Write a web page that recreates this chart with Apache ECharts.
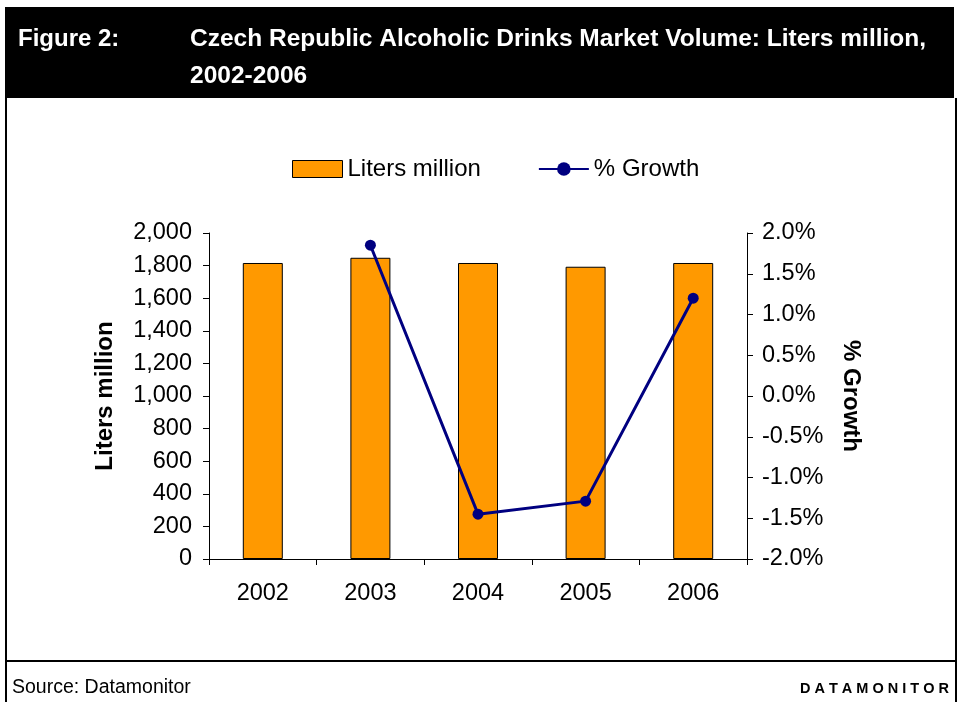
<!DOCTYPE html>
<html>
<head>
<meta charset="utf-8">
<script src="https://cdn.jsdelivr.net/npm/echarts@6/dist/echarts.min.js"></script>
<style>
html,body{margin:0;padding:0;background:#fff;}
#chart{width:961px;height:702px;}
</style>
</head>
<body>
<div id="chart"></div>
<script>
var categories = ['2002', '2003', '2004', '2005', '2006'];
var volumeValues = [1816, 1848, 1816, 1793, 1816];
var growthValues = [null, 1.85, -1.45, -1.29, 1.20];
var leftTicks = [0, 200, 400, 600, 800, 1000, 1200, 1400, 1600, 1800, 2000];
var rightTicks = [-2.0, -1.5, -1.0, -0.5, 0.0, 0.5, 1.0, 1.5, 2.0];

var FONT = '"Liberation Sans", Arial, sans-serif';
var chart = echarts.init(document.getElementById('chart'), null, {renderer: 'canvas'});

var option = {
  backgroundColor: '#ffffff',
  animation: false,
  textStyle: {fontFamily: FONT},
  graphic: [
    {type: 'rect', shape: {x: 5, y: 7, width: 949, height: 91}, style: {fill: '#000000'}, z: 0},
    {type: 'line', shape: {x1: 6, y1: 98, x2: 6, y2: 702}, style: {stroke: '#000', lineWidth: 2}},
    {type: 'line', shape: {x1: 956, y1: 98, x2: 956, y2: 702}, style: {stroke: '#000', lineWidth: 2}},
    {type: 'line', shape: {x1: 5, y1: 661, x2: 957, y2: 661}, style: {stroke: '#000', lineWidth: 2}},
    {type: 'text', left: 18, top: 27, style: {text: 'Figure 2:', fill: '#fff', font: 'bold 24px ' + FONT}, z: 10},
    {type: 'text', left: 190, top: 27, style: {text: 'Czech Republic Alcoholic Drinks Market Volume: Liters million,', fill: '#fff', font: 'bold 24.5px ' + FONT}, z: 10},
    {type: 'text', left: 190, top: 64, style: {text: '2002-2006', fill: '#fff', font: 'bold 24.5px ' + FONT}, z: 10},
    {type: 'text', left: 12, top: 678, style: {text: 'Source: Datamonitor', fill: '#000', font: '19.5px ' + FONT}},
    {type: 'text', right: 12, top: 681, style: {text: 'D A T A M O N I T O R', fill: '#000', font: 'bold 14.5px ' + FONT}}
  ],
  legend: {
    top: 152,
    left: 287,
    itemGap: 57,
    itemWidth: 50,
    itemHeight: 17,
    textStyle: {fontSize: 24, color: '#000', fontFamily: FONT},
    data: [
      {name: 'Liters million', icon: 'rect', itemStyle: {color: '#FF9900', borderColor: '#000', borderWidth: 1}},
      {name: '% Growth'}
    ]
  },
  grid: {left: 209, right: 214, top: 233, bottom: 143, containLabel: false},
  xAxis: {
    type: 'category',
    data: categories,
    axisLine: {lineStyle: {color: '#000', width: 1}},
    axisTick: {show: true, alignWithLabel: false, length: 6, lineStyle: {color: '#000'}},
    axisLabel: {fontSize: 23.5, color: '#000', margin: 23, fontFamily: FONT},
    splitLine: {show: false}
  },
  yAxis: [
    {
      type: 'value',
      min: 0, max: 2000, interval: 200,
      name: 'Liters million',
      nameLocation: 'middle',
      nameGap: 92,
      nameRotate: 90,
      nameTextStyle: {fontSize: 24, fontWeight: 'bold', color: '#000', fontFamily: FONT},
      axisLine: {show: true, lineStyle: {color: '#000', width: 1}},
      axisTick: {show: true, length: 6, lineStyle: {color: '#000'}},
      axisLabel: {fontSize: 23.5, color: '#000', margin: 17, fontFamily: FONT,
        formatter: function (v) { return v.toLocaleString('en-US'); }},
      splitLine: {show: false}
    },
    {
      type: 'value',
      min: -2, max: 2, interval: 0.5,
      position: 'right',
      name: '% Growth',
      nameLocation: 'middle',
      nameGap: 92,
      nameRotate: -90,
      nameTextStyle: {fontSize: 24, fontWeight: 'bold', color: '#000', fontFamily: FONT},
      axisLine: {show: true, lineStyle: {color: '#000', width: 1}},
      axisTick: {show: true, length: 6, lineStyle: {color: '#000'}},
      axisLabel: {fontSize: 23.5, color: '#000', margin: 15, fontFamily: FONT,
        formatter: function (v) { return v.toFixed(1) + '%'; }},
      splitLine: {show: false}
    }
  ],
  series: [
    {
      name: 'Liters million',
      type: 'bar',
      data: volumeValues,
      barWidth: 40,
      itemStyle: {color: '#FF9900', borderColor: '#000', borderWidth: 1}
    },
    {
      name: '% Growth',
      type: 'line',
      yAxisIndex: 1,
      data: growthValues,
      symbol: 'circle',
      symbolSize: 11,
      connectNulls: false,
      lineStyle: {color: '#000080', width: 3},
      itemStyle: {color: '#000080'}
    }
  ]
};
chart.setOption(option);
</script>
</body>
</html>
